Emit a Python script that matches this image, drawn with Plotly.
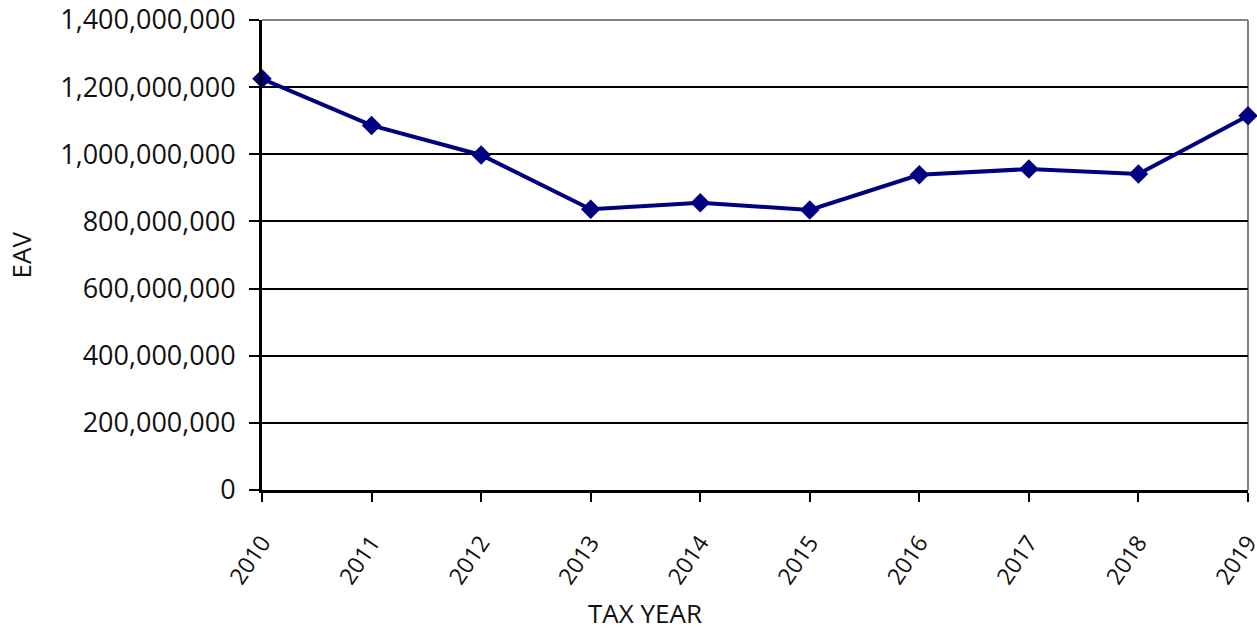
import plotly.graph_objects as go

# Equalized assessed value by tax year
years = ["2010", "2011", "2012", "2013", "2014", "2015", "2016", "2017", "2018", "2019"]
eav = [1225e6, 1086e6, 998e6, 836e6, 856e6, 834e6, 939e6, 956e6, 941e6, 1115e6]

y_ticks = [0, 200e6, 400e6, 600e6, 800e6, 1000e6, 1200e6, 1400e6]
y_tick_labels = ["0", "200,000,000", "400,000,000", "600,000,000", "800,000,000",
                 "1,000,000,000", "1,200,000,000", "1,400,000,000"]

FONT = "Open Sans"
NAVY = "#000080"
TEXT = "#111111"

fig = go.Figure(
    go.Scatter(
        x=list(range(len(years))),
        y=eav,
        mode="lines+markers",
        line=dict(color=NAVY, width=4),
        marker=dict(symbol="diamond", size=15, color=NAVY),
        cliponaxis=False,
        showlegend=False,
    )
)

fig.update_layout(
    width=1257,
    height=631,
    margin=dict(l=262, r=9, t=20, b=141),
    paper_bgcolor="white",
    plot_bgcolor="white",
    font=dict(family=FONT, size=24, color=TEXT),
)

fig.update_xaxes(
    range=[0, len(years) - 1],
    tickmode="array",
    tickvals=list(range(len(years))),
    ticktext=years,
    tickangle=-56,
    ticklabeloverflow="allow",
    ticklabelstandoff=18,
    tickfont=dict(family=FONT, size=23, color=TEXT),
    ticks="outside",
    ticklen=9,
    tickwidth=2,
    tickcolor="black",
    showline=True,
    linecolor="black",
    linewidth=3,
    showgrid=False,
    zeroline=False,
    automargin=False,
)

fig.update_yaxes(
    range=[0, 1400e6],
    tickmode="array",
    tickvals=y_ticks,
    ticktext=y_tick_labels,
    tickfont=dict(family=FONT, size=27, color=TEXT),
    ticklabelstandoff=8,
    ticklabeloverflow="allow",
    ticks="outside",
    ticklen=10,
    tickwidth=2,
    tickcolor="black",
    showline=True,
    linecolor="black",
    linewidth=3,
    showgrid=True,
    gridcolor="black",
    gridwidth=2,
    zeroline=False,
    automargin=False,
)

# Axis titles
fig.add_annotation(text="EAV", xref="paper", yref="paper", x=-0.244, y=0.5,
                   xanchor="center", yanchor="middle", textangle=-90, showarrow=False,
                   font=dict(family=FONT, size=26, color=TEXT))
fig.add_annotation(text="TAX YEAR", xref="paper", yref="paper", x=0.388, y=-0.262,
                   xanchor="center", yanchor="middle", showarrow=False, borderpad=0,
                   font=dict(family=FONT, size=26, color=TEXT))

# Gray frame on the top and right of the plotting area
fig.add_shape(type="line", xref="paper", yref="paper", x0=0, x1=1, y0=1, y1=1,
              line=dict(color="#808080", width=2), layer="below")
fig.add_shape(type="line", xref="paper", yref="paper", x0=1, x1=1, y0=0, y1=1,
              line=dict(color="#808080", width=2), layer="below")

fig.write_html("out.html")
